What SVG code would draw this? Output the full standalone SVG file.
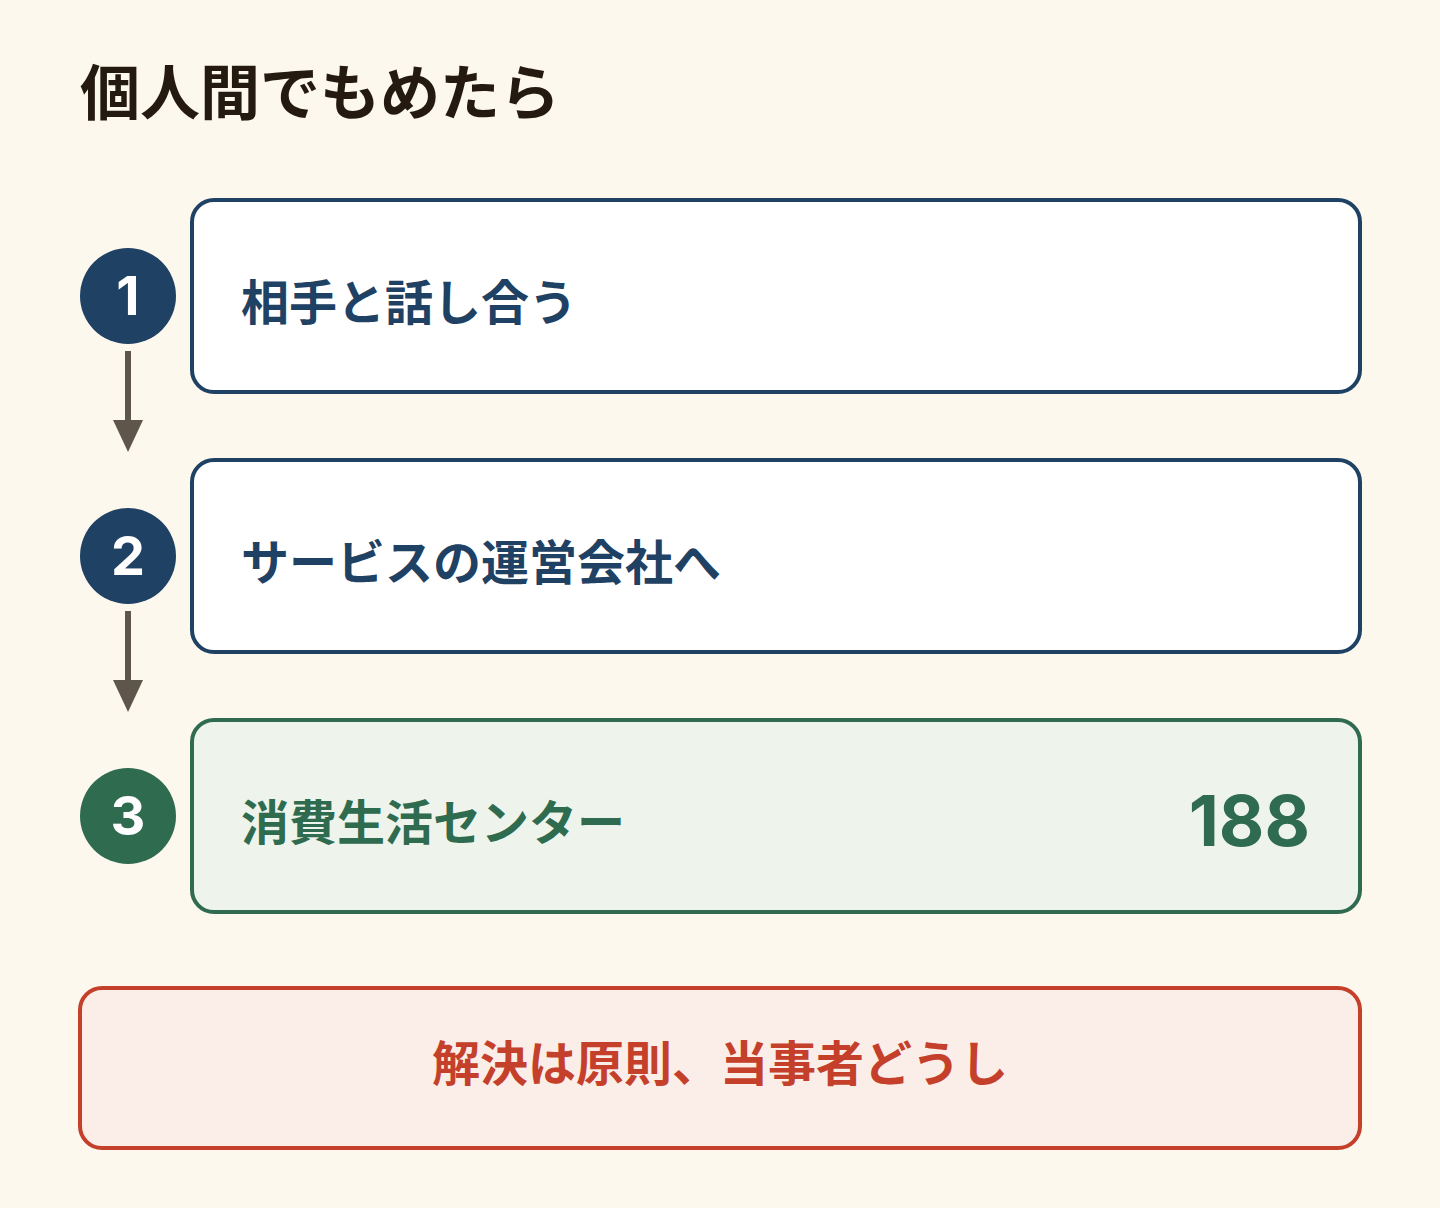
<svg xmlns="http://www.w3.org/2000/svg" width="1440" height="1208" viewBox="0 0 1440 1208">
<defs>
<style>
.jp{font-family:"Noto Sans CJK JP","Noto Sans",sans-serif;font-weight:700}
.num{font-family:Inter,"Noto Sans",sans-serif;font-weight:700}
.box{stroke-width:4}
.navy{fill:#fff;stroke:#1f4163}
.green{fill:#eef3eb;stroke:#2f6b4f}
.red{fill:#fbede8;stroke:#c4402b}
.conn{stroke:#5e564b;stroke-width:6}
</style>
<marker id="ah" markerWidth="32" markerHeight="30" viewBox="0 0 32 30" refX="0" refY="15" orient="auto" markerUnits="userSpaceOnUse">
<path d="M0 0 L32 15 L0 30 Z" fill="#5e564b"/>
</marker>
</defs>
<rect x="0" y="0" width="1440" height="1208" fill="#fcf8ee"/>
<text class="jp" x="80" y="115" font-size="60" fill="#241a10">個人間でもめたら</text>
<g id="connectors">
<line class="conn" x1="128" y1="351" x2="128" y2="420" marker-end="url(#ah)"/>
<line class="conn" x1="128" y1="611" x2="128" y2="680" marker-end="url(#ah)"/>
</g>
<g id="step1">
<circle cx="128" cy="296" r="48" fill="#1f4163"/>
<text class="num" x="128" y="315" font-size="54" fill="#fff" text-anchor="middle">1</text>
<rect class="box navy" x="192" y="200" width="1168" height="192" rx="22"/>
<text class="jp" x="241" y="320" font-size="48" fill="#1f4163">相手と話し合う</text>
</g>
<g id="step2">
<circle cx="128" cy="556" r="48" fill="#1f4163"/>
<text class="num" x="128" y="575" font-size="54" fill="#fff" text-anchor="middle">2</text>
<rect class="box navy" x="192" y="460" width="1168" height="192" rx="22"/>
<text class="jp" x="241" y="580" font-size="48" fill="#1f4163">サービスの運営会社へ</text>
</g>
<g id="step3">
<circle cx="128" cy="816" r="48" fill="#2f6b4f"/>
<text class="num" x="128" y="835" font-size="54" fill="#fff" text-anchor="middle">3</text>
<rect class="box green" x="192" y="720" width="1168" height="192" rx="22"/>
<text class="jp" x="241" y="840" font-size="48" fill="#2f6b4f">消費生活センター</text>
<text class="num" x="1310" y="846" font-size="70" fill="#2f6b4f" text-anchor="end">188</text>
</g>
<g id="note">
<rect class="box red" x="80" y="988" width="1280" height="160" rx="22"/>
<text class="jp" x="720" y="1081" font-size="48" fill="#c4402b" text-anchor="middle">解決は原則、当事者どうし</text>
</g>
</svg>
